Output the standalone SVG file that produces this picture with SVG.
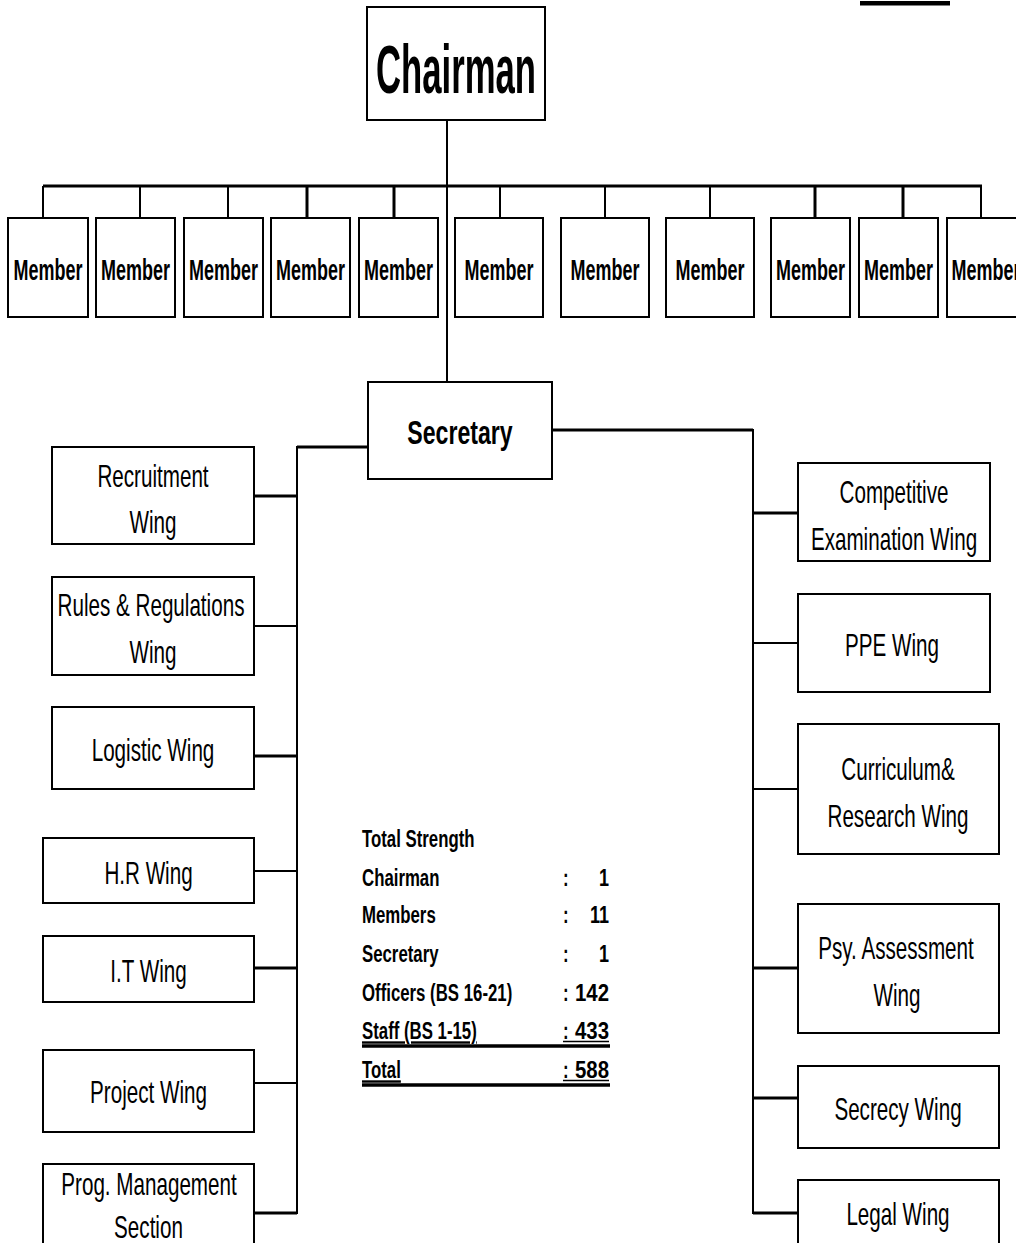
<svg xmlns="http://www.w3.org/2000/svg" width="1016" height="1243" viewBox="0 0 1016 1243">
<style>
.box{fill:#fff;stroke:#000;stroke-width:2}
.ln{stroke:#000;stroke-width:2;fill:none}
.lt{stroke:#000;stroke-width:3;fill:none}
.t{font-family:"Liberation Sans",Arial,sans-serif;font-size:32px;fill:#000;text-anchor:middle}
.mb{font-family:"Liberation Sans",Arial,sans-serif;font-size:29px;font-weight:bold;fill:#000;text-anchor:middle}
.tb{font-family:"Liberation Sans",Arial,sans-serif;font-size:24px;font-weight:bold;fill:#000}
.big{font-family:"Liberation Sans",Arial,sans-serif;font-weight:bold;fill:#000;text-anchor:middle}
.ul{stroke:#000;stroke-width:1.7}
.bar{stroke:#000;stroke-width:3.5}
</style>
<rect x="860" y="1" width="90" height="4.5" fill="#000"/>
<g id="connectors">
<line class="ln" x1="447" y1="120" x2="447" y2="382"/>
<line class="lt" x1="43" y1="186" x2="982" y2="186"/>
<line class="ln" x1="43" y1="186" x2="43" y2="218"/>
<line class="ln" x1="140" y1="186" x2="140" y2="218"/>
<line class="ln" x1="228" y1="186" x2="228" y2="218"/>
<line class="lt" x1="307" y1="186" x2="307" y2="218"/>
<line class="lt" x1="394" y1="186" x2="394" y2="218"/>
<line class="ln" x1="500" y1="186" x2="500" y2="218"/>
<line class="ln" x1="605" y1="186" x2="605" y2="218"/>
<line class="ln" x1="710" y1="186" x2="710" y2="218"/>
<line class="lt" x1="815" y1="186" x2="815" y2="218"/>
<line class="lt" x1="903" y1="186" x2="903" y2="218"/>
<line class="ln" x1="981" y1="186" x2="981" y2="218"/>
<line class="lt" x1="368" y1="447" x2="297" y2="447"/>
<line class="ln" x1="297" y1="446" x2="297" y2="1214"/>
<line class="lt" x1="254" y1="496" x2="297" y2="496"/>
<line class="ln" x1="254" y1="626" x2="297" y2="626"/>
<line class="lt" x1="254" y1="756" x2="297" y2="756"/>
<line class="ln" x1="254" y1="871" x2="297" y2="871"/>
<line class="lt" x1="254" y1="968" x2="297" y2="968"/>
<line class="ln" x1="254" y1="1083" x2="297" y2="1083"/>
<line class="lt" x1="254" y1="1213" x2="297" y2="1213"/>
<line class="lt" x1="552" y1="430" x2="753" y2="430"/>
<line class="ln" x1="753" y1="429" x2="753" y2="1214"/>
<line class="lt" x1="753" y1="513" x2="798" y2="513"/>
<line class="ln" x1="753" y1="643" x2="798" y2="643"/>
<line class="ln" x1="753" y1="789" x2="798" y2="789"/>
<line class="lt" x1="753" y1="968" x2="798" y2="968"/>
<line class="lt" x1="753" y1="1098" x2="798" y2="1098"/>
<line class="lt" x1="753" y1="1213" x2="798" y2="1213"/>
</g>
<g id="chairman">
<rect class="box" x="367" y="7" width="178" height="113"/>
<text class="big" font-size="68" transform="translate(456,93) scale(0.51,1)">Chairman</text>
</g>
<g id="member1"><rect class="box" x="8" y="218" width="80" height="99"/><text class="mb" transform="translate(48,280) scale(0.62,1)">Member</text></g>
<g id="member2"><rect class="box" x="96" y="218" width="79" height="99"/><text class="mb" transform="translate(135.5,280) scale(0.62,1)">Member</text></g>
<g id="member3"><rect class="box" x="184" y="218" width="79" height="99"/><text class="mb" transform="translate(223.5,280) scale(0.62,1)">Member</text></g>
<g id="member4"><rect class="box" x="271" y="218" width="79" height="99"/><text class="mb" transform="translate(310.5,280) scale(0.62,1)">Member</text></g>
<g id="member5"><rect class="box" x="359" y="218" width="79" height="99"/><text class="mb" transform="translate(398.5,280) scale(0.62,1)">Member</text></g>
<g id="member6"><rect class="box" x="455" y="218" width="88" height="99"/><text class="mb" transform="translate(499,280) scale(0.62,1)">Member</text></g>
<g id="member7"><rect class="box" x="561" y="218" width="88" height="99"/><text class="mb" transform="translate(605,280) scale(0.62,1)">Member</text></g>
<g id="member8"><rect class="box" x="666" y="218" width="88" height="99"/><text class="mb" transform="translate(710,280) scale(0.62,1)">Member</text></g>
<g id="member9"><rect class="box" x="771" y="218" width="79" height="99"/><text class="mb" transform="translate(810.5,280) scale(0.62,1)">Member</text></g>
<g id="member10"><rect class="box" x="859" y="218" width="79" height="99"/><text class="mb" transform="translate(898.5,280) scale(0.62,1)">Member</text></g>
<g id="member11"><rect class="box" x="947" y="218" width="80" height="99"/><text class="mb" transform="translate(986,280) scale(0.62,1)">Member</text></g>
<g id="secretary">
<rect class="box" x="368" y="382" width="184" height="97"/>
<text class="big" font-size="33" transform="translate(460,444) scale(0.7,1)">Secretary</text>
</g>
<g id="recruitment"><rect class="box" x="52" y="447" width="202" height="97"/>
<text class="t" transform="translate(153,487) scale(0.645,1)">Recruitment</text>
<text class="t" transform="translate(153,533) scale(0.645,1)">Wing</text></g>
<g id="rules"><rect class="box" x="52" y="577" width="202" height="98"/>
<text class="t" transform="translate(151,616) scale(0.645,1)">Rules &amp; Regulations</text>
<text class="t" transform="translate(153,663) scale(0.645,1)">Wing</text></g>
<g id="logistic"><rect class="box" x="52" y="707" width="202" height="82"/>
<text class="t" transform="translate(153,761) scale(0.645,1)">Logistic Wing</text></g>
<g id="hr"><rect class="box" x="43" y="838" width="211" height="65"/>
<text class="t" transform="translate(148.5,884) scale(0.645,1)">H.R Wing</text></g>
<g id="it"><rect class="box" x="43" y="936" width="211" height="66"/>
<text class="t" transform="translate(148.5,982) scale(0.645,1)">I.T Wing</text></g>
<g id="project"><rect class="box" x="43" y="1050" width="211" height="82"/>
<text class="t" transform="translate(148.5,1103) scale(0.645,1)">Project Wing</text></g>
<g id="progmgmt"><rect class="box" x="43" y="1164" width="211" height="90"/>
<text class="t" transform="translate(149,1195) scale(0.645,1)">Prog. Management</text>
<text class="t" transform="translate(148.5,1238) scale(0.645,1)">Section</text></g>
<g id="competitive"><rect class="box" x="798" y="463" width="192" height="98"/>
<text class="t" transform="translate(894,503) scale(0.645,1)">Competitive</text>
<text class="t" transform="translate(894,550) scale(0.645,1)">Examination Wing</text></g>
<g id="ppe"><rect class="box" x="798" y="594" width="192" height="98"/>
<text class="t" transform="translate(892,656) scale(0.645,1)">PPE Wing</text></g>
<g id="curriculum"><rect class="box" x="798" y="724" width="201" height="130"/>
<text class="t" transform="translate(898,780) scale(0.645,1)">Curriculum&amp;</text>
<text class="t" transform="translate(898,827) scale(0.645,1)">Research Wing</text></g>
<g id="psy"><rect class="box" x="798" y="904" width="201" height="129"/>
<text class="t" transform="translate(896,959) scale(0.645,1)">Psy. Assessment</text>
<text class="t" transform="translate(897,1006) scale(0.645,1)">Wing</text></g>
<g id="secrecy"><rect class="box" x="798" y="1066" width="201" height="82"/>
<text class="t" transform="translate(898,1120) scale(0.645,1)">Secrecy Wing</text></g>
<g id="legal"><rect class="box" x="798" y="1180" width="201" height="80"/>
<text class="t" transform="translate(898,1225) scale(0.645,1)">Legal Wing</text></g>
<g id="totals">
<text class="tb" transform="translate(362,847) scale(0.7,1)">Total Strength</text>
<text class="tb" transform="translate(362,886) scale(0.7,1)">Chairman</text>
<text class="tb" transform="translate(563,886) scale(0.7,1)">:</text>
<text class="tb" text-anchor="end" transform="translate(609,886) scale(0.75,1)">1</text>
<text class="tb" transform="translate(362,923) scale(0.7,1)">Members</text>
<text class="tb" transform="translate(563,923) scale(0.7,1)">:</text>
<text class="tb" text-anchor="end" transform="translate(609,923) scale(0.75,1)">11</text>
<text class="tb" transform="translate(362,962) scale(0.7,1)">Secretary</text>
<text class="tb" transform="translate(563,962) scale(0.7,1)">:</text>
<text class="tb" text-anchor="end" transform="translate(609,962) scale(0.75,1)">1</text>
<text class="tb" transform="translate(362,1001) scale(0.7,1)">Officers (BS 16-21)</text>
<text class="tb" transform="translate(563,1001) scale(0.7,1)">:</text>
<text class="tb" text-anchor="end" transform="translate(609,1001) scale(0.85,1)">142</text>
<text class="tb" text-decoration="underline" transform="translate(362,1039) scale(0.7,1)">Staff (BS 1-15)</text>
<text class="tb" transform="translate(563,1039) scale(0.7,1)">:</text>
<text class="tb" text-anchor="end" transform="translate(609,1039) scale(0.85,1)">433</text>
<line class="ul" x1="563" y1="1041.5" x2="609" y2="1041.5"/>
<line class="bar" x1="362" y1="1046" x2="610" y2="1046"/>
<text class="tb" text-decoration="underline" transform="translate(362,1078) scale(0.7,1)">Total</text>
<text class="tb" transform="translate(563,1078) scale(0.7,1)">:</text>
<text class="tb" text-anchor="end" transform="translate(609,1078) scale(0.85,1)">588</text>
<line class="ul" x1="563" y1="1080.5" x2="609" y2="1080.5"/>
<line class="bar" x1="362" y1="1085" x2="610" y2="1085"/>
</g>
</svg>
